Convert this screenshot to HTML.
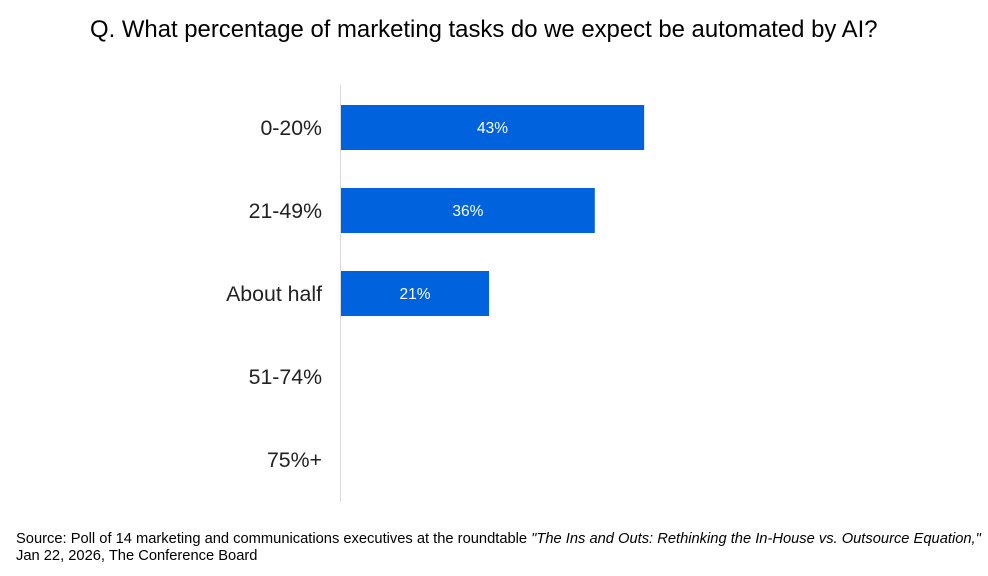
<!DOCTYPE html>
<html><head><meta charset="utf-8"><style>
body{margin:0;background:#fff;width:988px;height:571px;overflow:hidden;font-family:"Liberation Sans",sans-serif}
</style></head><body>
<svg width="988" height="571" font-family="Liberation Sans, sans-serif">
<text x="90" y="37" font-size="23.9" fill="#000">Q. What percentage of marketing tasks do we expect be automated by AI?</text>
<line x1="340.5" y1="85" x2="340.5" y2="502" stroke="#d9d9d9" stroke-width="1"/>
<g id="bars"></g>
<text x="16" y="543" font-size="14.7" fill="#000">Source: Poll of 14 marketing and communications executives at the roundtable <tspan font-style="italic">"The Ins and Outs: Rethinking the In-House vs. Outsource Equation,"</tspan></text>
<text x="16" y="560" font-size="14.7" fill="#000">Jan 22, 2026, The Conference Board</text>
</svg>
<script>
const categories=["0-20%","21-49%","About half","51-74%","75%+"];
const values=[43,36,21,0,0];
const valueLabels=["43%","36%","21%","",""];
const x0=341,pxPer=7.05,y0=127.5,step=83,barH=45;
const xs=v=>x0+v*pxPer;
const ys=i=>y0+i*step;
const g=document.getElementById('bars');
const ns="http://www.w3.org/2000/svg";
categories.forEach((c,i)=>{
  const t=document.createElementNS(ns,'text');
  t.setAttribute('x',322);t.setAttribute('y',ys(i)+7.5);
  t.setAttribute('text-anchor','end');t.setAttribute('font-size','21.3');t.setAttribute('fill','#222');
  t.textContent=c;
  
  
  g.appendChild(t);
  if(values[i]>0){
    const r=document.createElementNS(ns,'rect');
    r.setAttribute('x',x0);r.setAttribute('y',ys(i)-barH/2);
    r.setAttribute('width',xs(values[i])-x0);r.setAttribute('height',barH);
    r.setAttribute('fill','#0062DC');
    
    
    g.appendChild(r);
    const l=document.createElementNS(ns,'text');
    l.setAttribute('x',(x0+xs(values[i]))/2);l.setAttribute('y',ys(i)+5.5);
    l.setAttribute('text-anchor','middle');l.setAttribute('font-size','15.5');l.setAttribute('fill','#fff');
    l.textContent=valueLabels[i];
    
    
    g.appendChild(l);
  }
});
</script>
</body></html>
